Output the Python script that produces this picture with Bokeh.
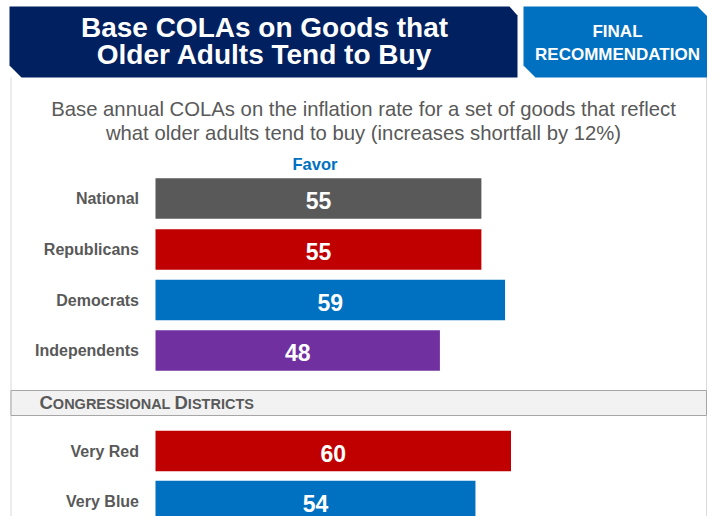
from bokeh.plotting import figure
from bokeh.models import Range1d
from bokeh.core.properties import value
from bokeh.embed import file_html
from bokeh.resources import INLINE

# ---- data ----
groups = ["National", "Republicans", "Democrats", "Independents"]
group_favor = [55, 55, 59, 48]
group_colors = ["#595959", "#C00000", "#0070C0", "#7030A0"]
district_groups = ["Very Red", "Very Blue"]
district_favor = [60, 54]
district_colors = ["#C00000", "#0070C0"]
title_lines = ["Base COLAs on Goods that", "Older Adults Tend to Buy"]
badge_lines = ["FINAL", "RECOMMENDATION"]
subtitle_lines = ["Base annual COLAs on the inflation rate for a set of goods that reflect",
                  "what older adults tend to buy (increases shortfall by 12%)"]
column_header = "Favor"
section_label = "CONGRESSIONAL DISTRICTS"

# ---- layout ----
W, H = 707, 516
PX_PER_UNIT = 5.925
ZERO_PX = 155.0   # canvas x of value 0


def X(px):
    return (px - ZERO_PX) / PX_PER_UNIT


FONT = value("Liberation Sans")
p = figure(width=W, height=H, output_backend="svg", toolbar_location=None,
           x_range=Range1d(X(0), X(W)), y_range=Range1d(H, 0),
           x_axis_type=None, y_axis_type=None, min_border=0,
           background_fill_color="white", border_fill_color="white")
p.outline_line_color = None
p.grid.visible = False

# frame lines
p.multi_line(xs=[[X(10.5), X(10.5)], [X(706), X(706)]], ys=[[77, 520], [77, 520]],
             line_color="#d9d9d9", line_width=1)

# header shapes
p.patch([X(v) for v in [9, 509, 517, 517, 21, 9]], [6, 6, 15, 77, 77, 65],
        fill_color="#002060", line_color=None)
p.patch([X(v) for v in [523, 697, 707, 707, 535, 523]], [6, 6, 16, 77, 77, 65],
        fill_color="#0070C0", line_color=None)

p.text(x=[X(264)] * 2, y=[26.5, 54], text=title_lines, text_align="center",
       text_baseline="middle", text_font=FONT, text_font_style="bold",
       text_font_size="28px", text_color="white")
p.text(x=[X(617)] * 2, y=[31, 54], text=badge_lines, text_align="center",
       text_baseline="middle", text_font=FONT, text_font_style="bold",
       text_font_size="17px", text_color="white")

# subtitle
p.text(x=[X(363)] * 2, y=[108, 132], text=subtitle_lines, text_align="center",
       text_baseline="middle", text_font=FONT, text_font_size="20.3px",
       text_color="#595959")
p.text(x=[X(314.5)], y=[163], text=[column_header], text_align="center",
       text_baseline="middle", text_font=FONT, text_font_style="bold",
       text_font_size="16.5px", text_color="#0070C0")

# bars
BAR_H = 40.5
group_y = [198, 249, 299.5, 350]
district_y = [450.5, 500.5]

for labels, vals, cols, ys in [(groups, group_favor, group_colors, group_y),
                               (district_groups, district_favor, district_colors, district_y)]:
    p.hbar(y=ys, left=0, right=vals, height=BAR_H, fill_color=cols, line_color=None)
    p.text(x=[v / 2 for v in vals], y=[yy + 2 for yy in ys], text=[str(v) for v in vals],
           text_align="center", text_baseline="middle", text_font=FONT,
           text_font_style="bold", text_font_size="23px", text_color="white")
    p.text(x=[X(138.5)] * len(labels), y=list(ys), text=labels,
           text_align="right", text_baseline="middle", text_font=FONT,
           text_font_style="bold", text_font_size="16px", text_color="#595959")

# section band
p.quad(left=[X(10.5)], right=[X(706)], top=[390], bottom=[415],
       fill_color="#f2f2f2", line_color="#a6a6a6", line_width=1)
big, small = 18.5, 14.5
metrics = {"O": .778, "N": .722, "G": .778, "R": .722, "E": .667, "S": .667,
           "I": .278, "A": .722, "L": .611, "T": .611, "C": .722, "D": .722}
pieces, sizes, xs, ys = [], [], [], []
cur = 39.0
base = 409.0
for word in section_label.split(" "):
    pieces += [word[0], word[1:]]
    sizes += [f"{big}px", f"{small}px"]
    ys += [base - 0.36 * big, base - 0.36 * small]
    xs.append(cur)
    cur += metrics[word[0]] * big
    xs.append(cur)
    cur += sum(metrics[c] for c in word[1:]) * small + 0.278 * small
p.text(x=[X(v) for v in xs], y=ys, text=pieces, text_align="left",
       text_baseline="middle", text_font=FONT, text_font_style="bold",
       text_font_size=sizes, text_color="#595959")

open("out.html", "w").write(file_html(p, INLINE))
